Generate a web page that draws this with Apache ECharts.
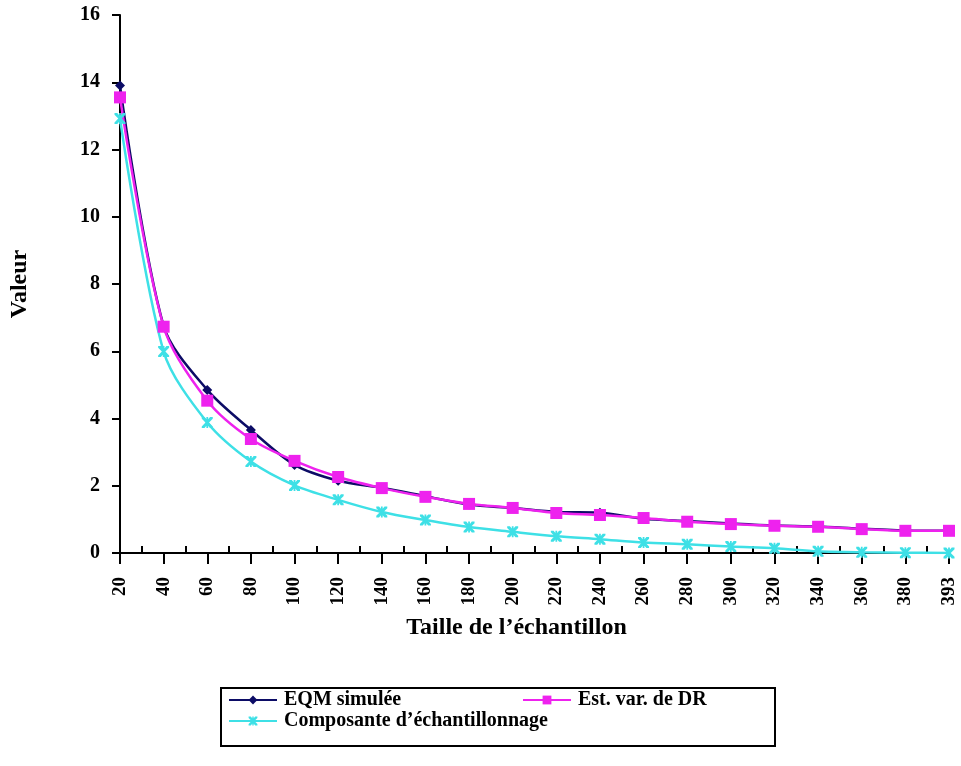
<!DOCTYPE html>
<html>
<head>
<meta charset="utf-8">
<script src="https://cdn.jsdelivr.net/npm/echarts@6/dist/echarts.min.js"></script>
<style>
html,body{margin:0;padding:0;background:#fff;}
#chart{width:961px;height:766px;}
</style>
</head>
<body>
<div id="chart"></div>
<script>
const categories = ['20','40','60','80','100','120','140','160','180','200','220','240','260','280','300','320','340','360','380','393'];
const eqmSimulee = [13.9,6.75,4.85,3.66,2.62,2.15,1.94,1.69,1.44,1.34,1.22,1.2,1.02,0.95,0.88,0.82,0.79,0.72,0.67,0.66];
const estVarDR = [13.55,6.73,4.53,3.39,2.74,2.26,1.93,1.67,1.46,1.34,1.19,1.13,1.04,0.93,0.86,0.81,0.78,0.71,0.66,0.66];
const composante = [12.92,5.99,3.88,2.72,2.01,1.58,1.22,0.98,0.77,0.63,0.5,0.41,0.31,0.26,0.19,0.14,0.05,0.02,0.01,0];
const yTicks = [0,2,4,6,8,10,12,14,16];

const FONT = '"Liberation Serif", "DejaVu Serif", serif';
const minorCats = categories.slice(1).map(() => '');
const xPath = 'path://M0,0L2.5,0L5,3L7.5,0L10,0L10,1.5L6.6,5L10,8.5L10,10L7.5,10L5,7L2.5,10L0,10L0,8.5L3.4,5L0,1.5Z M4.2,0L5.8,0L5.8,10L4.2,10Z';

const chart = echarts.init(document.getElementById('chart'), null, {renderer: 'canvas'});
const legendBase = {
  orient: 'horizontal',
  itemWidth: 48,
  itemHeight: 11,
  itemGap: 6,
  textStyle: {fontFamily: FONT, fontWeight: 'bold', fontSize: 20, color: '#000', padding: [0, 0, 0, 2]},
  padding: 0
};
chart.setOption({
  animation: false,
  backgroundColor: '#fff',
  textStyle: {fontFamily: FONT},
  grid: {left: 113, right: 12, top: 15, bottom: 213, containLabel: false},
  xAxis: [{
    type: 'category',
    data: categories,
    boundaryGap: false,
    name: 'Taille de l\u2019\u00e9chantillon',
    nameLocation: 'middle',
    nameGap: 63,
    nameTextStyle: {fontFamily: FONT, fontWeight: 'bold', fontSize: 24, color: '#000', padding: [0, 36, 0, 0]},
    axisLine: {lineStyle: {color: '#000', width: 2}},
    axisTick: {show: true, length: 11, lineStyle: {color: '#000', width: 2}},
    axisLabel: {rotate: 90, margin: 24, fontFamily: FONT, fontWeight: 'bold', fontSize: 19, color: '#000', interval: 0},
    splitLine: {show: false}
  }, {
    type: 'category',
    data: minorCats,
    boundaryGap: true,
    position: 'bottom',
    axisLine: {show: false},
    axisTick: {show: true, inside: true, alignWithLabel: true, length: 7, lineStyle: {color: '#000', width: 2}},
    axisLabel: {show: false},
    splitLine: {show: false}
  }],
  yAxis: {
    type: 'value',
    min: yTicks[0],
    max: yTicks[yTicks.length - 1],
    interval: 2,
    name: 'Valeur',
    nameLocation: 'middle',
    nameGap: 88,
    nameRotate: 90,
    nameTextStyle: {fontFamily: FONT, fontWeight: 'bold', fontSize: 24, color: '#000'},
    axisLine: {show: true, lineStyle: {color: '#000', width: 2}},
    axisTick: {show: true, length: 8, lineStyle: {color: '#000', width: 2}},
    axisLabel: {margin: 20, fontFamily: FONT, fontWeight: 'bold', fontSize: 20, color: '#000'},
    splitLine: {show: false}
  },
  legend: [
    Object.assign({}, legendBase, {data: ['EQM simul\u00e9e'], left: 228, top: 690}),
    Object.assign({}, legendBase, {data: ['Est. var. de DR'], left: 522, top: 690}),
    Object.assign({}, legendBase, {data: ['Composante d\u2019\u00e9chantillonnage'], left: 228, top: 711})
  ],
  graphic: [{
    type: 'rect',
    shape: {x: 221, y: 688, width: 554, height: 58},
    style: {fill: 'none', stroke: '#000', lineWidth: 2},
    silent: true
  }],
  series: [{
    name: 'EQM simul\u00e9e',
    type: 'line',
    data: eqmSimulee,
    smooth: 0.3,
    symbol: 'diamond',
    symbolSize: 10,
    color: '#0c0c66',
    lineStyle: {width: 2.5, color: '#0c0c66'},
    itemStyle: {color: '#0c0c66'}
  }, {
    name: 'Composante d\u2019\u00e9chantillonnage',
    type: 'line',
    data: composante,
    smooth: 0.3,
    symbol: xPath,
    symbolSize: 11,
    color: '#3ee0e6',
    lineStyle: {width: 2.5, color: '#3ee0e6'},
    itemStyle: {color: '#3ee0e6'}
  }, {
    name: 'Est. var. de DR',
    type: 'line',
    data: estVarDR,
    smooth: 0.3,
    symbol: 'rect',
    symbolSize: 12,
    color: '#ee22ee',
    lineStyle: {width: 2.5, color: '#ee22ee'},
    itemStyle: {color: '#ee22ee'}
  }]
});
</script>
</body>
</html>
